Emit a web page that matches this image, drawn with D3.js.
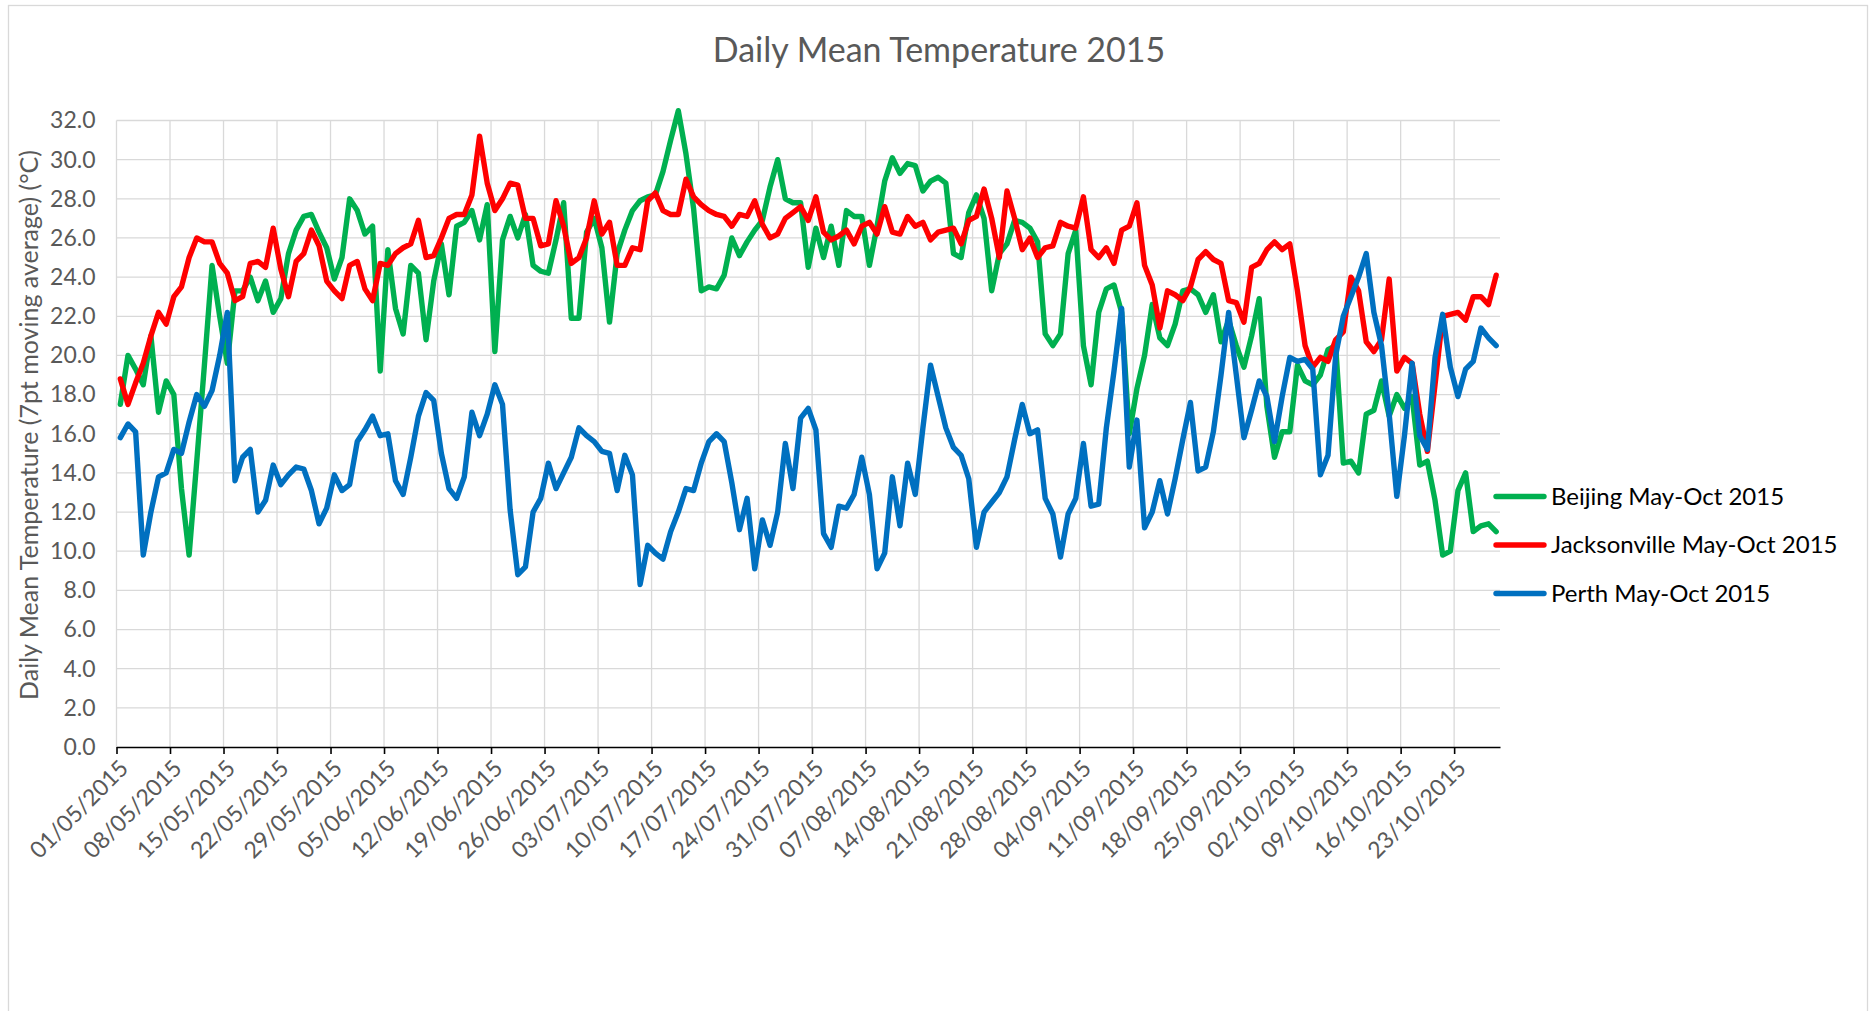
<!DOCTYPE html>
<html lang="en">
  <head>
    <meta charset="utf-8">
    <title>Daily Mean Temperature 2015</title>
    <script type="text/javascript" src="https://d3js.org/d3.v7.min.js"></script>
    <style>
      body { margin: 0; background: #ffffff; }
      text { font-family: Lato, 'Open Sans', sans-serif; }
      .grid line { stroke: #d9d9d9; stroke-width: 1.3; }
      .series { fill: none; stroke-width: 5.4; stroke-linejoin: round; stroke-linecap: round; }
    </style>
  </head>
  <body>
    <div id="chart"></div>
    <script type="text/javascript">

      // data: 7pt moving average, one value per day from 01/05/2015
      var startDate = Date.UTC(2015, 4, 1);
      var dayCount = 181;

      var beijing = [
        17.5, 20.0, 19.3, 18.5, 21.0, 17.1, 18.7, 18.0, 13.2, 9.8,
        14.6, 19.5, 24.6, 22.0, 19.6, 23.3, 23.3, 24.0, 22.8, 23.8,
        22.2, 22.9, 25.2, 26.4, 27.1, 27.2, 26.3, 25.5, 23.9, 25.0,
        28.0, 27.4, 26.2, 26.6, 19.2, 25.4, 22.4, 21.1, 24.6, 24.2,
        20.8, 23.8, 25.7, 23.1, 26.6, 26.8, 27.4, 25.9, 27.7, 20.2,
        25.9, 27.1, 26.0, 27.2, 24.6, 24.3, 24.2, 25.9, 27.8, 21.9,
        21.9, 26.3, 27.0, 25.5, 21.7, 25.2, 26.4, 27.4, 27.9, 28.1,
        28.2, 29.4, 31.0, 32.5, 30.3, 27.5, 23.3, 23.5, 23.4, 24.1,
        26.0, 25.1, 25.8, 26.4, 26.9, 28.6, 30.0, 28.0, 27.8, 27.8,
        24.5, 26.5, 25.0, 26.6, 24.6, 27.4, 27.1, 27.1, 24.6, 26.6,
        28.9, 30.1, 29.3, 29.8, 29.7, 28.4, 28.9, 29.1, 28.8, 25.2,
        25.0, 27.3, 28.2, 27.0, 23.3, 25.2, 25.7, 26.9, 26.8, 26.5,
        25.8, 21.1, 20.5, 21.1, 25.2, 26.4, 20.5, 18.5, 22.2, 23.4,
        23.6, 22.2, 16.0, 18.3, 20.0, 22.6, 20.9, 20.5, 21.6, 23.3,
        23.4, 23.1, 22.2, 23.1, 20.7, 21.8, 20.5, 19.4, 21.0, 22.9,
        17.4, 14.8, 16.1, 16.1, 19.5, 18.7, 18.5, 19.0, 20.3, 20.5,
        14.5, 14.6, 14.0, 17.0, 17.2, 18.7, 16.9, 18.0, 17.3, 17.9,
        14.4, 14.6, 12.6, 9.8, 10.0, 13.1, 14.0, 11.0, 11.3, 11.4,
        11.0
      ];

      var jacksonville = [
        18.8, 17.5, 18.6, 19.6, 21.0, 22.2, 21.6, 23.0, 23.5, 25.0,
        26.0, 25.8, 25.8, 24.7, 24.2, 22.8, 23.0, 24.7, 24.8, 24.5,
        26.5, 24.4, 23.0, 24.8, 25.2, 26.4, 25.6, 23.8, 23.3, 22.9,
        24.6, 24.8, 23.4, 22.8, 24.7, 24.6, 25.2, 25.5, 25.7, 26.9,
        25.0, 25.1, 26.0, 27.0, 27.2, 27.2, 28.2, 31.2, 28.8, 27.4,
        28.0, 28.8, 28.7, 27.0, 27.0, 25.6, 25.7, 27.9, 26.6, 24.7,
        25.0, 26.0, 27.9, 26.2, 26.8, 24.6, 24.6, 25.5, 25.4, 27.9,
        28.3, 27.4, 27.2, 27.2, 29.0, 28.1, 27.7, 27.4, 27.2, 27.1,
        26.6, 27.2, 27.1, 27.9, 26.7, 26.0, 26.2, 27.0, 27.3, 27.6,
        26.9, 28.1, 26.3, 25.9, 26.1, 26.4, 25.7, 26.6, 26.8, 26.2,
        27.6, 26.3, 26.2, 27.1, 26.6, 26.8, 25.9, 26.3, 26.4, 26.5,
        25.7, 26.9, 27.1, 28.5, 27.0, 25.0, 28.4, 27.0, 25.4, 26.0,
        25.0, 25.5, 25.6, 26.8, 26.6, 26.5, 28.1, 25.4, 25.0, 25.5,
        24.7, 26.4, 26.6, 27.8, 24.6, 23.6, 21.4, 23.3, 23.1, 22.8,
        23.5, 24.9, 25.3, 24.9, 24.7, 22.8, 22.7, 21.7, 24.5, 24.7,
        25.4, 25.8, 25.4, 25.7, 23.3, 20.5, 19.4, 19.9, 19.7, 20.8,
        21.2, 24.0, 23.3, 20.7, 20.2, 20.8, 23.9, 19.2, 19.9, 19.6,
        17.0, 15.1, 18.5, 22.0, 22.1, 22.2, 21.8, 23.0, 23.0, 22.6,
        24.1
      ];

      var perth = [
        15.8, 16.5, 16.1, 9.8, 12.0, 13.8, 14.0, 15.2, 15.0, 16.6,
        18.0, 17.4, 18.2, 20.0, 22.2, 13.6, 14.8, 15.2, 12.0, 12.6,
        14.4, 13.4, 13.9, 14.3, 14.2, 13.1, 11.4, 12.2, 13.9, 13.1,
        13.4, 15.6, 16.2, 16.9, 15.9, 16.0, 13.6, 12.9, 14.8, 16.9,
        18.1, 17.7, 15.0, 13.2, 12.7, 13.8, 17.1, 15.9, 17.0, 18.5,
        17.5, 12.1, 8.8, 9.2, 12.0, 12.7, 14.5, 13.2, 14.0, 14.8,
        16.3, 15.9, 15.6, 15.1, 15.0, 13.1, 14.9, 13.9, 8.3, 10.3,
        9.9, 9.6, 11.0, 12.0, 13.2, 13.1, 14.5, 15.6, 16.0, 15.6,
        13.5, 11.1, 12.7, 9.1, 11.6, 10.3, 12.0, 15.5, 13.2, 16.8,
        17.3, 16.2, 10.9, 10.2, 12.3, 12.2, 12.9, 14.8, 12.9, 9.1,
        9.9, 13.8, 11.3, 14.5, 12.9, 16.3, 19.5, 17.9, 16.3, 15.3,
        14.9, 13.7, 10.2, 12.0, 12.5, 13.0, 13.8, 15.7, 17.5, 16.0,
        16.2, 12.7, 11.9, 9.7, 11.9, 12.7, 15.5, 12.3, 12.4, 16.3,
        19.2, 22.4, 14.3, 16.7, 11.2, 12.0, 13.6, 11.9, 13.7, 15.7,
        17.6, 14.1, 14.3, 16.1, 19.0, 22.2, 19.0, 15.8, 17.2, 18.7,
        17.9, 15.6, 17.9, 19.9, 19.7, 19.8, 19.3, 13.9, 14.9, 20.0,
        22.0, 23.0, 24.0, 25.2, 22.2, 20.5, 17.0, 12.8, 15.9, 19.6,
        15.9, 15.2, 19.9, 22.1, 19.4, 17.9, 19.3, 19.7, 21.4, 20.9,
        20.5
      ];

      var seriesNames = ['Beijing May-Oct 2015', 'Jacksonville May-Oct 2015', 'Perth May-Oct 2015'];
      var seriesValues = [beijing, jacksonville, perth];
      var seriesColors = ['#00b050', '#ff0000', '#0070c0'];
      var yTickValues = d3.range(0, 32.01, 2);

      var w = 1871;
      var h = 1011;
      var margin = { left: 116.5, right: 1500, top: 120.5, bottom: 747 };

      var svg = d3.select('#chart')
        .append('svg')
          .attr('width', w)
          .attr('height', h)
          .style('display', 'block');

      // chart frame
      svg.append('rect')
        .attr('x', 8.5)
        .attr('y', 5.5)
        .attr('width', 1859)
        .attr('height', 1030)
        .attr('fill', '#ffffff')
        .attr('stroke', '#d9d9d9')
        .attr('stroke-width', 1.3);

      var endDate = d3.utcDay.offset(new Date(startDate), dayCount);

      var xScale = d3.scaleUtc()
        .domain([new Date(startDate), endDate])
        .range([margin.left, margin.right]);

      var yScale = d3.scaleLinear()
        .domain([0, 32])
        .range([margin.bottom, margin.top]);

      var weekTicks = d3.utcDay.range(new Date(startDate), endDate, 7);

      // gridlines
      var grid = svg.append('g').attr('class', 'grid');

      grid.selectAll('.hgrid')
        .data(yTickValues.filter(function(d) { return d > 0; }))
        .enter()
        .append('line')
          .attr('x1', margin.left)
          .attr('x2', margin.right)
          .attr('y1', function(d) { return yScale(d); })
          .attr('y2', function(d) { return yScale(d); });

      grid.selectAll('.vgrid')
        .data(weekTicks)
        .enter()
        .append('line')
          .attr('x1', function(d) { return xScale(d); })
          .attr('x2', function(d) { return xScale(d); })
          .attr('y1', margin.top)
          .attr('y2', margin.bottom);

      // y axis labels
      var yAxis = svg.append('g')
        .attr('transform', 'translate(' + (margin.left - 21) + ',0)')
        .call(d3.axisLeft(yScale).tickValues(yTickValues).tickFormat(d3.format('.1f')).tickSize(0).tickPadding(0));
      yAxis.select('.domain').remove();
      yAxis.selectAll('text')
        .attr('fill', '#595959')
        .style('font-size', '23px')
        .style('font-family', 'Lato, sans-serif');

      // x axis
      var xAxis = svg.append('g')
        .attr('transform', 'translate(0,' + margin.bottom + ')')
        .call(d3.axisBottom(xScale).tickValues(weekTicks).tickFormat(d3.utcFormat('%d/%m/%Y')).tickSize(7).tickSizeOuter(0));
      xAxis.select('.domain')
        .attr('stroke', '#000000')
        .attr('stroke-width', 1.6);
      xAxis.selectAll('.tick line')
        .attr('stroke', '#000000')
        .attr('stroke-width', 1.6);
      xAxis.selectAll('text')
        .attr('fill', '#595959')
        .style('font-size', '23px')
        .style('font-family', 'Lato, sans-serif')
        .attr('text-anchor', 'end')
        .attr('dy', '0.35em')
        .attr('transform', 'translate(7,17) rotate(-45)')
        .attr('x', 0)
        .attr('y', 0);

      // series lines, point at the middle of each day
      var line = d3.line()
        .x(function(d, i) { return xScale(new Date(startDate + (i + 0.5) * 86400000)); })
        .y(function(d) { return yScale(d); });

      svg.selectAll('.series')
        .data(seriesValues)
        .enter()
        .append('path')
          .attr('class', 'series')
          .attr('stroke', function(d, i) { return seriesColors[i]; })
          .attr('d', line);

      // title
      svg.append('text')
        .attr('x', 939)
        .attr('y', 62)
        .attr('text-anchor', 'middle')
        .attr('fill', '#595959')
        .style('font-size', '34px')
        .text('Daily Mean Temperature 2015');

      // y axis title
      svg.append('text')
        .attr('transform', 'translate(38,' + 425 + ') rotate(-90)')
        .attr('text-anchor', 'middle')
        .attr('fill', '#595959')
        .style('font-size', '25px')
        .text('Daily Mean Temperature (7pt moving average) (\u00b0C)');

      // legend
      var legend = svg.selectAll('.legend-item')
        .data(seriesNames)
        .enter()
        .append('g')
          .attr('class', 'legend-item')
          .attr('transform', function(d, i) { return 'translate(1494,' + (496.5 + i * 48.5) + ')'; });

      legend.append('line')
        .attr('x1', 2)
        .attr('x2', 50)
        .attr('stroke', function(d, i) { return seriesColors[i]; })
        .attr('stroke-width', 5.4)
        .attr('stroke-linecap', 'round');

      legend.append('text')
        .attr('x', 57)
        .attr('dy', '0.35em')
        .attr('fill', '#000000')
        .style('font-size', '24px')
        .text(function(d) { return d; });

    </script>
  </body>
</html>
